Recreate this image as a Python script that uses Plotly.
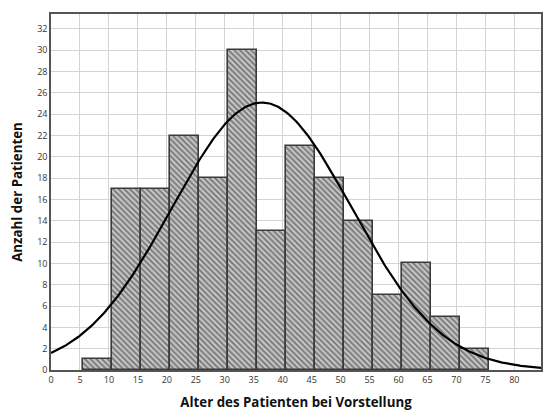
import numpy as np
import plotly.graph_objects as go

# Age bins (lower edge, width 5) and patient counts
bin_starts = [5, 10, 15, 20, 25, 30, 35, 40, 45, 50, 55, 60, 65, 70]
counts = [1, 17, 17, 22, 18, 30, 13, 21, 18, 14, 7, 10, 5, 2]
bin_width = 5
bin_offset = 0.6

# Fitted normal distribution parameters
mean_age = 36.4
sd_age = 15.5

x_ticks = list(range(0, 85, 5))
y_ticks = list(range(0, 34, 2))

n_total = sum(counts)
centers = [s + bin_offset + bin_width / 2 for s in bin_starts]

xs = np.linspace(0, 85, 400)
ys = n_total * bin_width / (sd_age * np.sqrt(2 * np.pi)) * np.exp(-0.5 * ((xs - mean_age) / sd_age) ** 2)

fig = go.Figure()
fig.add_trace(go.Bar(
    x=centers, y=counts, width=bin_width,
    marker=dict(
        color="white",
        line=dict(color="#3a3a3a", width=1.6),
        pattern=dict(shape="\\", fgcolor="#222222", bgcolor="#c4c4c4", size=4, solidity=0.42),
    ),
    showlegend=False,
))
fig.add_trace(go.Scatter(
    x=xs, y=ys, mode="lines", line=dict(color="black", width=2.2), showlegend=False,
))

fig.update_layout(
    width=544, height=411,
    margin=dict(l=51, r=1, t=14, b=41),
    plot_bgcolor="white", paper_bgcolor="white",
    bargap=0,
    font=dict(family="Open Sans, DejaVu Sans, sans-serif", color="#333333"),
)
fig.update_xaxes(
    range=[0, 84.6], tickvals=x_ticks, ticktext=[str(v) for v in x_ticks],
    tickfont=dict(size=9, color="#333333"),
    showgrid=True, gridcolor="#d4d4d4", gridwidth=1,
    showline=True, linecolor="#555555", linewidth=1.5, mirror=True,
    zeroline=False, ticks="",
    title=dict(text="<b>Alter des Patienten bei Vorstellung</b>", font=dict(size=13.3, color="#111111"), standoff=14),
)
fig.update_yaxes(
    range=[0, 33.4], tickvals=y_ticks, ticktext=[str(v) for v in y_ticks],
    tickfont=dict(size=9, color="#333333"),
    showgrid=True, gridcolor="#d4d4d4", gridwidth=1,
    showline=True, linecolor="#555555", linewidth=1.5, mirror=True,
    zeroline=False, ticks="",
    title=dict(text="<b>Anzahl der Patienten</b>", font=dict(size=13.3, color="#111111"), standoff=11),
)

fig.write_html("out.html")
